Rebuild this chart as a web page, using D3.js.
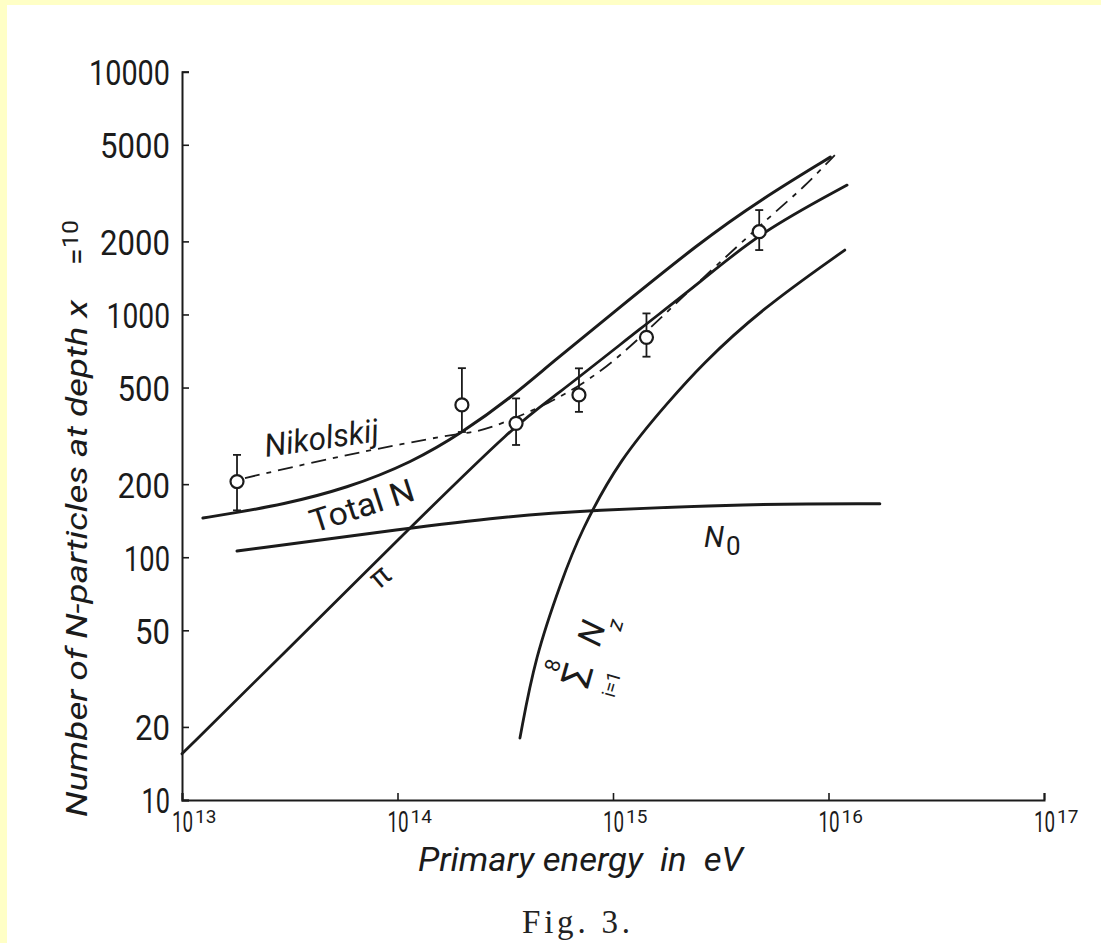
<!DOCTYPE html>
<html><head><meta charset="utf-8">
<script src="https://cdn.jsdelivr.net/npm/d3@7"></script>
<style>
html,body{margin:0;padding:0;background:#FFFFC6;overflow:hidden;}
svg{display:block;}
</style></head><body>
<svg id="chart" width="1101" height="943"></svg>
<script>
// ---------- data ----------
const xTickValues = [1e13, 1e14, 1e15, 1e16, 1e17];
const xTickExps   = ["13", "14", "15", "16", "17"];
const yTickValues = [10, 20, 50, 100, 200, 500, 1000, 2000, 5000, 10000];

// Total N curve
const totalE = [1.25e13, 1.80e13, 2.85e13, 5.83e13, 1.18e14, 1.99e14, 3.44e14, 5.11e14, 1.01e15, 2.54e15, 4.81e15, 1.02e16];
const totalN = [145, 153, 164, 192, 247, 325, 462, 625, 1023, 1986, 2958, 4448];
// pi component
const piE = [1.0e13, 2.85e13, 1.14e14, 3.59e14, 5.11e14, 1.44e15, 2.54e15, 4.75e15, 1.22e16];
const piN = [15.5, 38.8, 132, 357, 444, 920, 1358, 2164, 3411];
// N0 component
const n0E = [1.80e13, 1.14e14, 3.0e14, 7.8e14, 4.19e15, 1.73e16];
const n0N = [106, 132, 146.5, 156, 166, 166];
// N_z component
const nzE = [3.70e14, 4.35e14, 5.79e14, 7.03e14, 1.08e15, 1.84e15, 2.54e15, 4.81e15, 1.19e16];
const nzN = [18, 38.8, 80.6, 126, 256, 444, 613, 1042, 1842];
// Nikolskij (dashed)
const nikE = [1.96e13, 5.24e13, 9.95e13, 1.95e14, 2.49e14, 5.27e14, 8.07e14, 1.09e15, 1.67e15, 2.40e15, 5.77e15, 7.62e15, 1.07e16];
const nikN = [212, 259, 290, 325, 328, 436, 552, 680, 967, 1321, 2692, 3316, 4535];
// measured points with error bars
const obsE  = [1.80e13, 1.99e14, 3.55e14, 6.95e14, 1.43e15, 4.77e15];
const obsN  = [205, 424, 356, 466, 805, 2192];
const obsLo = [156, 328, 290, 397, 670, 1842];
const obsHi = [264, 601, 451, 600, 1010, 2692];

// ---------- drawing ----------
const INK = "#1b1b1b";
const svg = d3.select("#chart");
svg.append("rect").attr("x", 7).attr("y", 5).attr("width", 1094).attr("height", 938).attr("fill", "#ffffff");

const x = d3.scaleLog().domain([1e13, 1e17]).range([182, 1044]);
const y = d3.scaleLog().domain([10, 10000]).range([800, 71.7]);

const tickFont = "Roboto, 'DejaVu Sans', sans-serif";
function digitLen(s){ let L=0; for (const c of s) L += (c==="1") ? 11 : 17.5; return L; }

// y axis
const yAxis = svg.append("g").attr("transform", "translate(182,0)")
  .call(d3.axisLeft(y).tickValues(yTickValues).tickSize(-7).tickPadding(12).tickFormat(d3.format("d")));
yAxis.select(".domain").attr("stroke", INK).attr("stroke-width", 2);
yAxis.selectAll(".tick line").attr("stroke", INK).attr("stroke-width", 1.6);
yAxis.selectAll(".tick text")
  .attr("fill", INK).attr("font-family", tickFont).attr("font-size", 36).attr("font-weight", 400)
  .attr("dy", "0.36em")
  .each(function(d){
    const s = String(d);
    const sx = digitLen(s) / (0.562 * 36 * s.length);
    d3.select(this).attr("transform", `scale(${sx},1)`).attr("x", -12 / sx);
  });

// x axis
const xAxis = svg.append("g").attr("transform", "translate(0,800)")
  .call(d3.axisBottom(x).tickValues(xTickValues).tickSize(-7).tickFormat(""));
xAxis.select(".domain").attr("stroke", INK).attr("stroke-width", 2);
xAxis.selectAll(".tick line").attr("stroke", INK).attr("stroke-width", 1.6);
const xl = svg.append("g").attr("font-family", tickFont).attr("font-weight", 400).attr("fill", INK);
xTickValues.forEach((v, i) => {
  xl.append("text").attr("transform", `translate(${x(v) - 10},832) scale(0.65,1)`)
    .attr("font-size", 29).text("10");
  xl.append("text").attr("x", x(v) + 13).attr("y", 823)
    .attr("font-size", 19).text(xTickExps[i]);
});

// axis titles
svg.append("text").attr("x", 418).attr("y", 871)
  .attr("font-family", tickFont).attr("font-style", "italic").attr("font-size", 33).attr("font-weight", 400)
  .attr("fill", INK).style("white-space", "pre")
  .attr("textLength", 325).attr("lengthAdjust", "spacingAndGlyphs")
  .text("Primary energy  in  eV");

svg.append("text").attr("transform", "translate(87,817) rotate(-90)")
  .attr("font-family", tickFont).attr("font-style", "italic").attr("font-size", 30).attr("font-weight", 400)
  .attr("fill", INK).attr("textLength", 517).attr("lengthAdjust", "spacingAndGlyphs")
  .text("Number of N-particles at depth x");
svg.append("text").attr("transform", "translate(87,265) rotate(-90)")
  .attr("font-family", tickFont).attr("font-size", 30).attr("font-weight", 400).attr("fill", INK).text("=");
svg.append("text").attr("transform", "translate(78,248) rotate(-90)")
  .attr("font-family", tickFont).attr("font-size", 22).attr("font-weight", 400).attr("fill", INK)
  .attr("textLength", 28).attr("lengthAdjust", "spacingAndGlyphs").text("10");

// Fig caption
svg.append("text").attr("x", 522).attr("y", 933)
  .attr("font-family", "'Liberation Serif', 'DejaVu Serif', serif").attr("font-size", 33).attr("fill", "#222")
  .attr("textLength", 108).attr("lengthAdjust", "spacing").text("Fig. 3.");

// curves
const line = d3.line().x(d => x(d[0])).y(d => y(d[1])).curve(d3.curveBasis);
const zip = (a, b) => a.map((v, i) => [v, b[i]]);
const curves = svg.append("g").attr("fill", "none").attr("stroke", INK).attr("stroke-linecap", "round");
curves.append("path").attr("d", line(zip(totalE, totalN))).attr("stroke-width", 3);
curves.append("path").attr("d", line(zip(piE, piN))).attr("stroke-width", 2.8);
curves.append("path").attr("d", line(zip(n0E, n0N))).attr("stroke-width", 3);
curves.append("path").attr("d", line(zip(nzE, nzN))).attr("stroke-width", 2.8);
curves.append("path").attr("d", line(zip(nikE, nikN))).attr("stroke-width", 1.8)
  .attr("stroke-dasharray", "15,7,5,7").attr("stroke-linecap", "butt");

// data points
const pts = svg.append("g").attr("stroke", INK);
obsE.forEach((e, i) => {
  const cx = x(e);
  pts.append("line").attr("x1", cx).attr("x2", cx).attr("y1", y(obsHi[i])).attr("y2", y(obsLo[i])).attr("stroke-width", 1.8);
  pts.append("line").attr("x1", cx - 4).attr("x2", cx + 4).attr("y1", y(obsHi[i])).attr("y2", y(obsHi[i])).attr("stroke-width", 1.8);
  pts.append("line").attr("x1", cx - 4).attr("x2", cx + 4).attr("y1", y(obsLo[i])).attr("y2", y(obsLo[i])).attr("stroke-width", 1.8);
  pts.append("circle").attr("cx", cx).attr("cy", y(obsN[i])).attr("r", 6.5).attr("fill", "#fff").attr("stroke-width", 2.2);
});

// curve labels
const lab = svg.append("g").attr("fill", INK).attr("font-family", tickFont).attr("font-weight", 400);
lab.append("text").attr("transform", "translate(266,457) rotate(-8)")
  .attr("font-size", 32).attr("font-style", "italic")
  .attr("textLength", 115).attr("lengthAdjust", "spacingAndGlyphs").text("Nikolskij");
lab.append("text").attr("transform", "translate(314,533) rotate(-18)")
  .attr("font-size", 32)
  .attr("textLength", 108).attr("lengthAdjust", "spacingAndGlyphs").text("Total N");
lab.append("text").attr("transform", "translate(386,584) rotate(-40)")
  .attr("font-size", 30).attr("text-anchor", "middle").text("π");
lab.append("text").attr("x", 704).attr("y", 547).attr("font-size", 29).attr("font-style", "italic").text("N");
lab.append("text").attr("x", 726).attr("y", 555).attr("font-size", 26).text("0");
const nz = lab.append("g").attr("transform", "translate(588,688) rotate(-74)");
nz.append("text").attr("x", -2).attr("y", 0).attr("font-size", 40).text("Σ");
nz.append("text").attr("x", 12).attr("y", -33).attr("font-size", 21).attr("text-anchor", "middle").text("8");
nz.append("text").attr("x", 10).attr("y", 28).attr("font-size", 19).attr("text-anchor", "middle").text("i=1");
nz.append("text").attr("x", 42).attr("y", 0).attr("font-size", 34).attr("font-style", "italic").text("N");
nz.append("text").attr("x", 63).attr("y", 16).attr("font-size", 22).attr("font-style", "italic").text("z");
</script>
</body></html>
